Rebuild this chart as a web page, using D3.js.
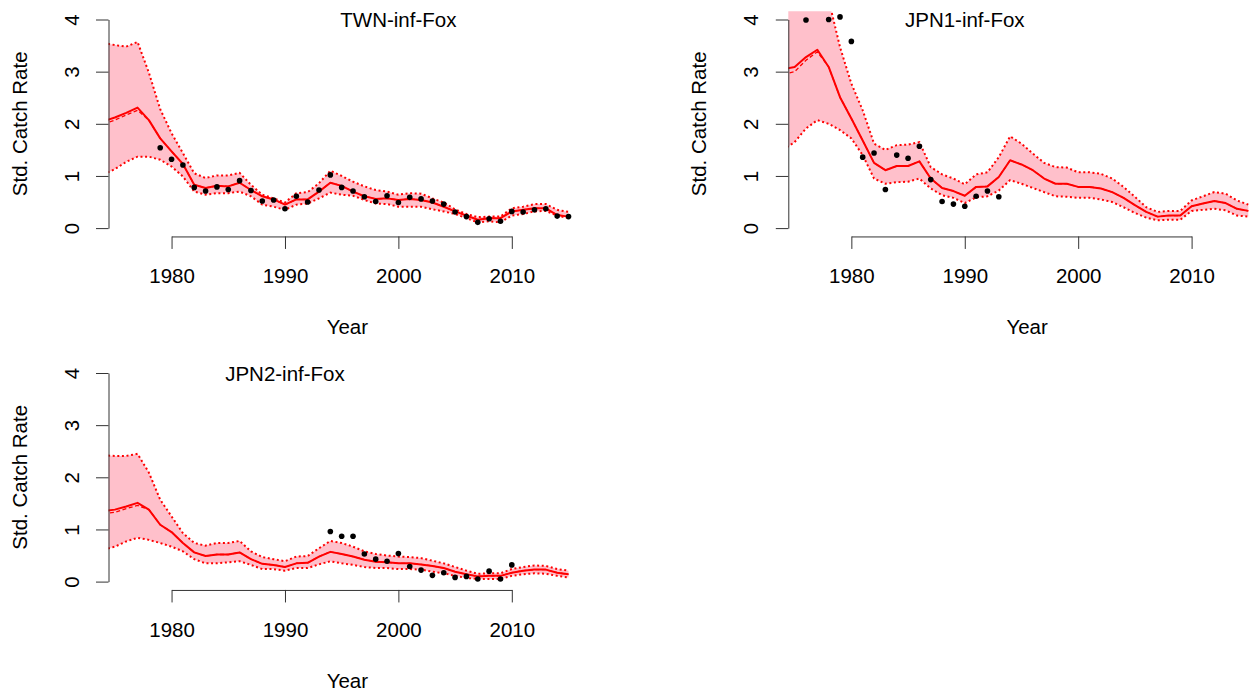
<!DOCTYPE html>
<html>
<head>
<meta charset="utf-8">
<script src="https://cdn.jsdelivr.net/npm/d3@7"></script>
<style>
  html, body { margin: 0; padding: 0; background: #ffffff; }
  svg { display: block; font-family: "Liberation Sans", Arial, Helvetica, sans-serif; }
</style>
</head>
<body>
<svg id="chart" width="1249" height="691"></svg>
<script>
// Model years shared by all three indices
const years = [1974,1975,1976,1977,1978,1979,1980,1981,1982,1983,1984,1985,1986,1987,1988,1989,
  1990,1991,1992,1993,1994,1995,1996,1997,1998,1999,2000,2001,2002,2003,2004,2005,2006,2007,
  2008,2009,2010,2011,2012,2013,2014,2015];

const xTicks = [1980, 1990, 2000, 2010];
const yTicks = [0, 1, 2, 3, 4];

// TWN index: fitted median, alternative fit, 95% band and observed CPUE
const twnMedian = [2.05,2.12,2.21,2.31,2.07,1.72,1.47,1.23,0.83,0.77,0.81,0.80,0.87,0.73,0.61,0.55,0.45,0.55,0.55,0.70,0.87,0.81,0.70,0.61,0.56,0.57,0.54,0.56,0.54,0.49,0.41,0.32,0.24,0.16,0.19,0.19,0.32,0.35,0.38,0.38,0.25,0.22];
const twnDashed = [2.00,2.07,2.17,2.26,2.07,1.72,1.47,1.23,0.83,0.77,0.81,0.80,0.87,0.73,0.61,0.55,0.45,0.55,0.55,0.70,0.87,0.81,0.70,0.61,0.56,0.57,0.54,0.56,0.54,0.49,0.41,0.32,0.24,0.16,0.19,0.19,0.32,0.35,0.38,0.38,0.25,0.22];
const twnUpper  = [3.55,3.51,3.48,3.57,2.98,2.28,1.82,1.44,1.05,0.96,1.01,1.01,1.06,0.83,0.64,0.57,0.49,0.67,0.69,0.86,1.10,1.00,0.89,0.80,0.73,0.70,0.64,0.67,0.66,0.57,0.49,0.36,0.27,0.21,0.22,0.22,0.38,0.41,0.46,0.46,0.35,0.31];
const twnLower  = [1.03,1.13,1.27,1.37,1.37,1.31,1.18,0.99,0.70,0.64,0.67,0.67,0.70,0.61,0.45,0.41,0.35,0.45,0.47,0.57,0.68,0.64,0.62,0.54,0.47,0.46,0.41,0.41,0.41,0.36,0.32,0.27,0.19,0.11,0.13,0.11,0.24,0.27,0.32,0.33,0.24,0.19];
const twnObsYears = [1979,1980,1981,1982,1983,1984,1985,1986,1987,1988,1989,1990,1991,1992,1993,1994,1995,1996,1997,1998,1999,2000,2001,2002,2003,2004,2005,2006,2007,2008,2009,2010,2011,2012,2013,2014,2015];
const twnObs = [1.54,1.32,1.21,0.78,0.71,0.79,0.74,0.91,0.72,0.52,0.54,0.37,0.61,0.50,0.73,1.02,0.78,0.71,0.60,0.51,0.62,0.49,0.59,0.56,0.52,0.46,0.31,0.22,0.11,0.18,0.13,0.32,0.31,0.35,0.37,0.23,0.22];

// JPN1 index
const jpn1Median = [3.05,3.09,3.28,3.42,3.09,2.51,2.10,1.68,1.25,1.11,1.19,1.19,1.28,0.95,0.77,0.71,0.62,0.79,0.80,0.98,1.30,1.22,1.11,0.95,0.85,0.85,0.79,0.79,0.76,0.69,0.58,0.44,0.31,0.22,0.24,0.24,0.42,0.47,0.52,0.48,0.37,0.33];
const jpn1Dashed = [2.95,3.00,3.22,3.38,3.09,2.51,2.10,1.68,1.25,1.11,1.19,1.19,1.28,0.95,0.77,0.71,0.62,0.79,0.80,0.98,1.30,1.22,1.11,0.95,0.85,0.85,0.79,0.79,0.76,0.69,0.58,0.44,0.31,0.22,0.24,0.24,0.42,0.47,0.52,0.48,0.37,0.33];
const jpn1Upper  = [5.00,4.95,5.05,5.15,4.38,3.47,2.77,2.26,1.62,1.50,1.59,1.60,1.65,1.17,1.03,0.95,0.84,1.03,1.07,1.36,1.76,1.62,1.43,1.25,1.17,1.16,1.07,1.07,1.04,0.95,0.79,0.60,0.40,0.31,0.33,0.33,0.53,0.61,0.69,0.66,0.53,0.45];
const jpn1Lower  = [1.50,1.65,1.91,2.07,2.00,1.88,1.72,1.40,0.95,0.85,0.88,0.89,0.95,0.76,0.63,0.58,0.48,0.59,0.61,0.72,0.92,0.85,0.77,0.69,0.61,0.60,0.58,0.58,0.55,0.50,0.40,0.29,0.20,0.15,0.16,0.16,0.33,0.35,0.37,0.34,0.24,0.22];
const jpn1ObsYears = [1976,1978,1979,1980,1981,1982,1983,1984,1985,1986,1987,1988,1989,1990,1991,1992,1993];
const jpn1Obs = [3.99,4.00,4.05,3.58,1.36,1.44,0.74,1.40,1.34,1.57,0.93,0.51,0.46,0.42,0.61,0.71,0.60];

// JPN2 index
const jpn2Median = [1.35,1.38,1.44,1.51,1.38,1.09,0.95,0.74,0.56,0.49,0.52,0.52,0.56,0.43,0.34,0.32,0.28,0.35,0.36,0.48,0.57,0.53,0.48,0.42,0.38,0.37,0.35,0.35,0.33,0.30,0.26,0.19,0.14,0.10,0.11,0.11,0.17,0.21,0.23,0.23,0.17,0.14];
const jpn2Dashed = [1.30,1.33,1.40,1.46,1.38,1.09,0.95,0.74,0.56,0.49,0.52,0.52,0.56,0.43,0.34,0.32,0.28,0.35,0.36,0.48,0.57,0.53,0.48,0.42,0.38,0.37,0.35,0.35,0.33,0.30,0.26,0.19,0.14,0.10,0.11,0.11,0.17,0.21,0.23,0.23,0.17,0.14];
const jpn2Upper  = [2.42,2.41,2.41,2.45,2.09,1.57,1.25,0.93,0.74,0.69,0.74,0.74,0.78,0.58,0.47,0.43,0.39,0.48,0.49,0.64,0.78,0.74,0.67,0.58,0.53,0.50,0.48,0.47,0.45,0.40,0.35,0.28,0.21,0.15,0.16,0.16,0.24,0.28,0.31,0.30,0.24,0.21];
const jpn2Lower  = [0.61,0.67,0.77,0.84,0.80,0.74,0.67,0.58,0.43,0.35,0.35,0.37,0.39,0.32,0.24,0.24,0.21,0.26,0.26,0.33,0.39,0.35,0.32,0.28,0.26,0.26,0.24,0.24,0.23,0.19,0.16,0.11,0.07,0.05,0.05,0.05,0.11,0.14,0.16,0.15,0.11,0.08];
const jpn2ObsYears = [1994,1995,1996,1997,1998,1999,2000,2001,2002,2003,2004,2005,2006,2007,2008,2009,2010];
const jpn2Obs = [0.96,0.87,0.87,0.53,0.43,0.39,0.54,0.29,0.22,0.12,0.17,0.08,0.10,0.05,0.20,0.05,0.32];

const panels = [
  { id: "twn",  title: "TWN-inf-Fox",  titleYear: 2000, ox: 0,     oy: 0,
    median: twnMedian,  dashed: twnDashed,  upper: twnUpper,  lower: twnLower,  obsYears: twnObsYears,  obs: twnObs },
  { id: "jpn1", title: "JPN1-inf-Fox", titleYear: 1990, ox: 679.8, oy: 0,
    median: jpn1Median, dashed: jpn1Dashed, upper: jpn1Upper, lower: jpn1Lower, obsYears: jpn1ObsYears, obs: jpn1Obs },
  { id: "jpn2", title: "JPN2-inf-Fox", titleYear: 1990, ox: 0,     oy: 353.5,
    median: jpn2Median, dashed: jpn2Dashed, upper: jpn2Upper, lower: jpn2Lower, obsYears: jpn2ObsYears, obs: jpn2Obs }
];

const svg = d3.select("#chart");
const FONT = 20.5;
const RED = "#ff0000";

// Plot region of one panel (R-style 4% padding around 1976–2015 and 0–4)
const x = d3.scaleLinear().domain([1974.44, 2016.56]).range([108.5, 586.2]);
const y = d3.scaleLinear().domain([-0.16, 4.16]).range([236.44, 11.16]);

// Axis scales span only the labelled ticks, so the axis lines stop at the end ticks
const xAxisScale = d3.scaleLinear().domain([1980, 2010]).range([x(1980), x(2010)]);
const yAxisScale = d3.scaleLinear().domain([0, 4]).range([y(0), y(4)]);

const defs = svg.append("defs");

panels.forEach(p => {
  const g = svg.append("g").attr("transform", `translate(${p.ox},${p.oy})`);

  defs.append("clipPath").attr("id", "clip-" + p.id)
    .append("rect")
    .attr("x", x.range()[0]).attr("y", y.range()[1])
    .attr("width", x.range()[1] - x.range()[0])
    .attr("height", y.range()[0] - y.range()[1]);

  const plot = g.append("g").attr("clip-path", `url(#clip-${p.id})`);

  const rows = years.map((yr, i) => ({
    yr, med: p.median[i], dash: p.dashed[i], hi: p.upper[i], lo: p.lower[i]
  }));

  // Uncertainty band
  plot.append("path")
    .datum(rows)
    .attr("fill", "#ffc0cb")
    .attr("d", d3.area().x(d => x(d.yr)).y0(d => y(d.lo)).y1(d => y(d.hi)));

  const lineOf = key => d3.line().x(d => x(d.yr)).y(d => y(d[key]));

  ["hi", "lo"].forEach(k => {
    plot.append("path")
      .datum(rows)
      .attr("fill", "none")
      .attr("stroke", RED)
      .attr("stroke-width", 2)
      .attr("stroke-dasharray", "2,2.6")
      .attr("d", lineOf(k));
  });

  plot.append("path")
    .datum(rows)
    .attr("fill", "none")
    .attr("stroke", RED)
    .attr("stroke-width", 1.3)
    .attr("stroke-dasharray", "4,2.5")
    .attr("d", lineOf("dash"));

  plot.append("path")
    .datum(rows)
    .attr("fill", "none")
    .attr("stroke", RED)
    .attr("stroke-width", 2)
    .attr("stroke-linejoin", "round")
    .attr("d", lineOf("med"));

  // Observed index values
  plot.selectAll("circle.obs")
    .data(p.obsYears.map((yr, i) => ({ yr, v: p.obs[i] })))
    .join("circle")
    .attr("class", "obs")
    .attr("cx", d => x(d.yr))
    .attr("cy", d => y(d.v))
    .attr("r", 2.8)
    .attr("fill", "#000");

  // X axis
  const xg = g.append("g")
    .attr("transform", `translate(0,${y.range()[0]})`)
    .call(d3.axisBottom(xAxisScale).tickValues(xTicks).tickFormat(d3.format("d"))
      .tickSize(12.5).tickSizeOuter(0));
  xg.selectAll("text").attr("y", 47).attr("dy", null)
    .attr("font-size", FONT).attr("fill", "#000");

  // Y axis with labels parallel to the axis
  const yg = g.append("g")
    .attr("transform", `translate(${x.range()[0]},0)`)
    .call(d3.axisLeft(yAxisScale).tickValues(yTicks).tickFormat(d3.format("d"))
      .tickSize(12.5).tickSizeOuter(0));
  yg.selectAll("text")
    .attr("x", null).attr("dy", null)
    .attr("text-anchor", "middle")
    .attr("transform", "translate(-30,0) rotate(-90)")
    .attr("font-size", FONT).attr("fill", "#000");

  [xg, yg].forEach(a => {
    a.attr("font-family", null);
    a.selectAll("path.domain, line").attr("stroke", "#333").attr("stroke-width", 1);
  });

  // Axis titles
  const midX = (x.range()[0] + x.range()[1]) / 2;
  const midY = (y.range()[0] + y.range()[1]) / 2;
  g.append("text")
    .attr("x", midX).attr("y", y.range()[0] + 98)
    .attr("text-anchor", "middle").attr("font-size", FONT)
    .text("Year");
  g.append("text")
    .attr("transform", `translate(${x.range()[0] - 82},${midY}) rotate(-90)`)
    .attr("text-anchor", "middle").attr("font-size", FONT)
    .text("Std. Catch Rate");

  // Index name inside the plot
  g.append("text")
    .attr("x", x(p.titleYear)).attr("y", y(4) + 7.5)
    .attr("text-anchor", "middle").attr("font-size", FONT)
    .text(p.title);
});
</script>
</body>
</html>
